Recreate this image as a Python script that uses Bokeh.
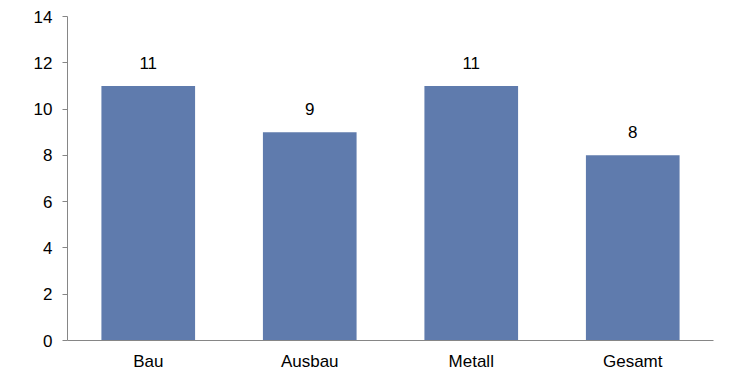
from bokeh.plotting import figure
from bokeh.models import ColumnDataSource, FactorRange, Range1d, FixedTicker, LabelSet
from bokeh.core.properties import value
from bokeh.embed import file_html
from bokeh.resources import INLINE

categories = ["Bau", "Ausbau", "Metall", "Gesamt"]
values = [11, 9, 11, 8]
y_ticks = [0, 2, 4, 6, 8, 10, 12, 14]

FONT = "Liberation Sans"
AXIS_COLOR = "#868686"
BAR_COLOR = "#5F7BAD"
FS = "17px"

src = ColumnDataSource(dict(cat=categories, val=values, lbl=[str(v) for v in values]))

p = figure(width=729, height=373, x_range=FactorRange(*categories, range_padding=0),
           y_range=Range1d(0, 14), output_backend="svg", toolbar_location=None,
           min_border_left=67, min_border_right=16, min_border_top=16, min_border_bottom=32)
p.outline_line_color = None
p.xgrid.grid_line_color = None
p.ygrid.grid_line_color = None
p.background_fill_color = "white"
p.border_fill_color = "white"

p.vbar(x="cat", top="val", width=0.58, source=src, color=BAR_COLOR, line_color=None)

labels = LabelSet(x="cat", y="val", text="lbl", source=src, text_align="center",
                  text_baseline="middle", y_offset=23, text_font=value(FONT),
                  text_font_size=FS, text_color="black")
p.add_layout(labels)

p.yaxis.ticker = FixedTicker(ticks=y_ticks)
p.yaxis.minor_tick_line_color = None
p.yaxis.major_tick_out = 5
p.yaxis.major_tick_in = 0
p.yaxis.axis_line_color = AXIS_COLOR
p.yaxis.major_tick_line_color = AXIS_COLOR
p.yaxis.major_label_standoff = 10
p.yaxis.major_label_text_font = FONT
p.yaxis.major_label_text_font_size = FS
p.yaxis.major_label_text_color = "black"

p.xaxis.major_tick_line_color = None
p.xaxis.minor_tick_line_color = None
p.xaxis.major_tick_out = 0
p.xaxis.major_tick_in = 0
p.xaxis.axis_line_color = AXIS_COLOR
p.xaxis.major_label_standoff = 11
p.xaxis.major_label_text_font = FONT
p.xaxis.major_label_text_font_size = FS
p.xaxis.major_label_text_color = "black"

open("out.html", "w").write(file_html(p, INLINE))
